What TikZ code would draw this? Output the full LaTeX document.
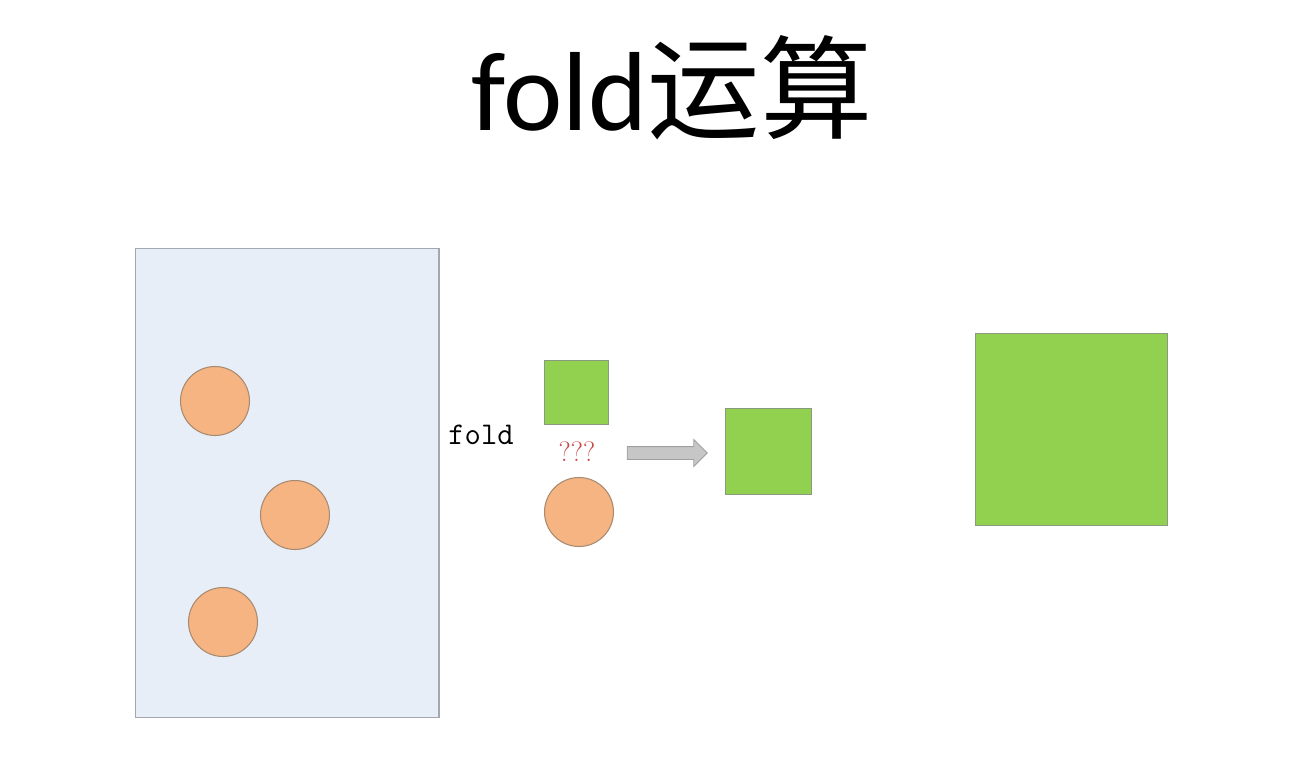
\documentclass[tikz,border=0pt]{standalone}
\usepackage{fontspec}
\newfontfamily\titlefont{Carlito}
\newfontfamily\cjk{Noto Sans CJK SC}
\usetikzlibrary{shapes.arrows}
\definecolor{boxblue}{HTML}{E8EEF8}
\definecolor{boxline}{HTML}{A4A6B0}
\definecolor{ballorange}{HTML}{F5B482}
\definecolor{ballline}{HTML}{A88A70}
\definecolor{tilegreen}{HTML}{92D050}
\definecolor{tileline}{HTML}{8A9A80}
\definecolor{qred}{HTML}{C84848}
\tikzset{
    ball/.style={circle, fill=ballorange, draw=ballline, line width=0.6pt, minimum size=1.38cm, inner sep=0},
    tile/.style={rectangle, fill=tilegreen, draw=tileline, line width=0.5pt, inner sep=0},
}
\begin{document}
\begin{tikzpicture}[x=0.02cm, y=-0.02cm]
    \useasboundingbox (0,0) rectangle (1302,764);
    % Title
    \node[anchor=base, inner sep=0] (title) at (672,130) {\fontsize{64}{70}\selectfont\titlefont fold\cjk 运算};

    % Collection
    \node[rectangle, fill=boxblue, draw=boxline, line width=0.6pt, minimum width=6.08cm, minimum height=9.4cm, inner sep=0] (coll) at (287,483) {};
    \node[ball] (b1) at (215,401) {};
    \node[ball] (b2) at (295,515) {};
    \node[ball] (b3) at (223,622) {};

    % Fold step
    \node[inner sep=0] (fold) at (481,435) {\fontsize{18}{20}\selectfont\ttfamily fold};
    \node[tile, minimum size=1.28cm] (acc) at (576,392) {};
    \node[text=qred, inner sep=0] (q) at (577,452) {\fontsize{16}{18}\selectfont ???};
    \node[ball] (elem) at (579,512) {};
    \node[single arrow, fill=gray!45, draw=gray!75, line width=0.5pt, minimum height=1.6cm, inner sep=0.12cm, single arrow head extend=0.14cm] (arr) at (664,453) {};
    \node[tile, minimum size=1.72cm] (res) at (768,451) {};

    % Result
    \node[tile, minimum size=3.84cm] (total) at (1071,429) {};
\end{tikzpicture}
\end{document}
